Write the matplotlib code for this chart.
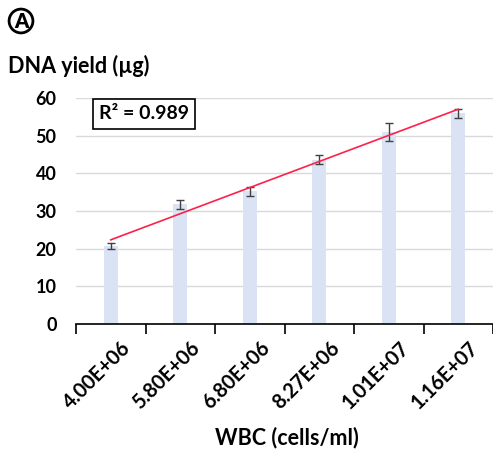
import numpy as np
import matplotlib.pyplot as plt
from matplotlib.transforms import ScaledTranslation

plt.rcParams['font.family'] = ['Lato', 'DejaVu Sans']

# Data
wbc_labels = ["4.00E+06", "5.80E+06", "6.80E+06", "8.27E+06", "1.01E+07", "1.16E+07"]
dna_yield = [20.6, 31.8, 35.2, 43.6, 50.9, 56.0]
yield_err = [0.8, 1.2, 1.2, 1.2, 2.4, 1.2]
r_squared = 0.989

x = np.arange(len(wbc_labels))

fig = plt.figure(figsize=(4.93, 4.51), dpi=100)
ax = fig.add_axes([76 / 493, 1 - 324 / 451, 417 / 493, 226 / 451])

ax.bar(x, dna_yield, width=0.2, color='#dae3f3', zorder=2)
ax.errorbar(x, dna_yield, yerr=yield_err, fmt='none', ecolor='#404040',
            elinewidth=1, capsize=3, capthick=1, zorder=3)

# linear trend line across categories
slope, intercept = np.polyfit(x, dna_yield, 1)
ax.plot(x, slope * x + intercept, color='#ff1f4b', linewidth=1.2, zorder=4)

ax.set_xlim(-0.5, len(wbc_labels) - 0.5)
ax.set_ylim(0, 60)
ax.set_yticks(range(0, 61, 10))
ax.yaxis.grid(True, color='#d9d9d9', linewidth=1)
ax.set_axisbelow(True)
for s in ['left', 'right', 'top']:
    ax.spines[s].set_visible(False)
ax.spines['bottom'].set_linewidth(1.2)
ax.tick_params(axis='y', length=0, pad=14, labelsize=13)
ax.set_yticklabels([str(v) for v in range(0, 61, 10)], fontweight='bold')

ax.set_xticks(x)
ax.set_xticklabels(wbc_labels, rotation=45, ha='right', va='top',
                   rotation_mode='anchor', fontsize=14.5, fontweight='bold')
ax.tick_params(axis='x', which='major', length=0, pad=10)
ax.set_xticks(np.arange(-0.5, len(wbc_labels)), minor=True)
ax.tick_params(axis='x', which='minor', length=7, width=1.2, color='black')
shift = ScaledTranslation(0.1, 0, fig.dpi_scale_trans)
for lbl in ax.get_xticklabels():
    lbl.set_transform(lbl.get_transform() + shift)

ax.text(0.055, 0.93, f"R² = {r_squared}", transform=ax.transAxes, fontsize=14,
        fontweight='bold', va='center', ha='left',
        bbox=dict(boxstyle='square,pad=0.32', facecolor='white', edgecolor='black', linewidth=1.2))

fig.text(8 / 493, 1 - 66 / 451, "DNA yield (µg)", fontsize=15.5, fontweight='bold', va='center')
fig.text(0.5 + 40 / 493, 1 - 438 / 451, "WBC (cells/ml)", fontsize=15.5, fontweight='bold',
         va='center', ha='center')

# panel label
fig.text(21 / 493, 1 - 21 / 451, "A", fontsize=14.5, fontweight='heavy', ha='center', va='center',
         bbox=dict(boxstyle='circle,pad=0.12', facecolor='white', edgecolor='black', linewidth=2))

fig.savefig('out.png', dpi=100)
